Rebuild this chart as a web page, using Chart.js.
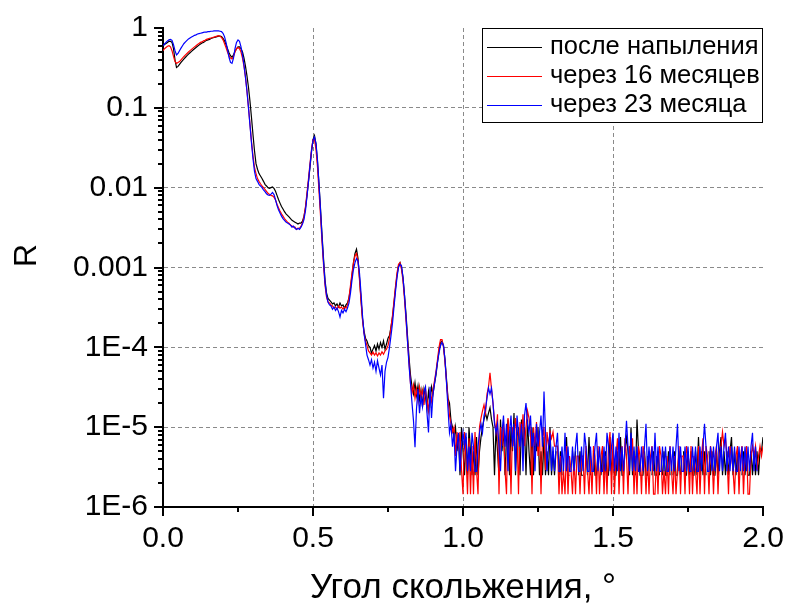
<!DOCTYPE html>
<html lang="ru">
<head>
<meta charset="utf-8">
<title>Рефлектометрия</title>
<script src="https://cdn.jsdelivr.net/npm/chart.js@4/dist/chart.umd.min.js"></script>
<style>
  html, body { margin: 0; padding: 0; background: #fff; }
  #wrap { width: 787px; height: 607px; }
</style>
</head>
<body>
<div id="wrap"><canvas id="refl" width="787" height="607"></canvas></div>
<script>
// grazing angle grid: one point every 0.005 deg from 0 to 2 deg
const ANGLE_STEP = 0.005;

const SERIES_NAMES = ['после напыления', 'через 16 месяцев', 'через 23 месяца'];
const SERIES_COLORS = ['#000000', '#ff0000', '#0000ff'];

const X_MAJOR = [0, 0.5, 1.0, 1.5, 2.0];
const X_MINOR = [0.25, 0.75, 1.25, 1.75];
const Y_DECADES = [1e-6, 1e-5, 1e-4, 1e-3, 0.01, 0.1, 1];
const Y_DECADE_LABELS = ['1E-6', '1E-5', '1E-4', '0.001', '0.01', '0.1', '1'];
const Y_MINOR_STEPS = [2, 3, 4, 5, 6, 7, 8, 9];

const FONT = "'Liberation Sans', Arial, sans-serif";

// R, right after deposition (null = no counts)
const rFresh = [
  0.60, 0.62, 0.64, 0.66, 0.68, 0.68, 0.66, 0.55, 0.40, 0.32,
  0.33, 0.35, 0.37, 0.39, 0.41, 0.43, 0.45, 0.47, 0.49, 0.51,
  0.53, 0.55, 0.57, 0.59, 0.61, 0.63, 0.65, 0.66, 0.68, 0.70,
  0.71, 0.72, 0.74, 0.75, 0.76, 0.77, 0.78, 0.79, 0.79, 0.78,
  0.74, 0.69, 0.62, 0.55, 0.49, 0.45, 0.43, 0.46, 0.51, 0.55,
  0.58, 0.58, 0.55, 0.50, 0.42, 0.33, 0.25, 0.18, 0.12, 0.075,
  0.046, 0.029, 0.020, 0.017, 0.015, 0.014, 0.013, 0.012, 0.011, 0.0105,
  0.0100, 0.0098, 0.0100, 0.0102, 0.0098, 0.0090, 0.0080, 0.0071, 0.0064, 0.0058,
  0.0054, 0.0050, 0.0047, 0.0045, 0.0043, 0.0041, 0.0039, 0.0038, 0.0037, 0.0036,
  0.0035, 0.0036, 0.0036, 0.0038, 0.0044, 0.0056, 0.0080, 0.012, 0.018, 0.028,
  0.040, 0.045, 0.035, 0.021, 0.011, 0.0055, 0.0026, 0.0013, 7.0e-4, 4.8e-4,
  4.1e-4, 3.9e-4, 3.7e-4, 3.5e-4, 3.6e-4, 3.3e-4, 3.5e-4, 3.2e-4, 3.6e-4, 3.3e-4,
  3.4e-4, 3.1e-4, 3.4e-4, 3.6e-4, 4.2e-4, 5.5e-4, 8.0e-4, 1.15e-3, 1.5e-3, 1.7e-3,
  1.3e-3, 7.5e-4, 4.0e-4, 2.3e-4, 1.6e-4, 1.3e-4, 1.2e-4, 1.05e-4, 1.0e-4, 8.5e-5,
  9.5e-5, 1.05e-4, 9.0e-5, 1.1e-4, 9.5e-5, 1.15e-4, 1.0e-4, 1.2e-4, 9.5e-5, 1.1e-4,
  1.3e-4, 1.4e-4, 1.8e-4, 2.4e-4, 3.6e-4, 5.5e-4, 8.0e-4, 1.05e-3, 1.15e-3, 1.0e-3,
  7.5e-4, 4.5e-4, 2.6e-4, 1.4e-4, 7.5e-5, 4.5e-5, 3.2e-5, 2.6e-5, 3.6e-5, 2.5e-5,
  3.3e-5, 2.2e-5, 2.9e-5, 1.8e-5, 3.0e-5, 2.4e-5, 1.7e-5, 2.8e-5, 2.0e-5, 3.2e-5,
  2.6e-5, 3.5e-5, 4.5e-5, 6.5e-5, 9.0e-5, 1.15e-4, 1.2e-4, 1.05e-4, 7.0e-5, 4.0e-5,
  2.3e-5, 2.0e-5, 1.2e-5, 1.0e-5, 7.5e-6, 1.0e-5, 5.0e-6, 7.5e-6, 2.5e-6, 1.0e-5,
  5.0e-6, 2.5e-6, 7.5e-6, 2.5e-6, 1.0e-5, 5.0e-6, 2.5e-6, 5.0e-6, 2.5e-6, 7.5e-6,
  2.5e-6, 5.0e-6, 7.5e-6, 1.0e-5, 1.25e-5, 1.5e-5, 1.25e-5, 1.5e-5, 1.75e-5, 1.25e-5,
  1.0e-5, 2.5e-6, 1.0e-5, 5.0e-6, 2.5e-6, 1.25e-5, 5.0e-6, 1.0e-5, 2.5e-6, 7.5e-6,
  1.25e-5, 2.5e-6, 1.0e-5, 5.0e-6, 1.5e-5, 2.5e-6, 7.5e-6, 1.0e-5, 2.5e-6, 1.25e-5,
  5.0e-6, 1.0e-5, 2.5e-6, 1.25e-5, 5.0e-6, 2.5e-6, 1.0e-5, 2.5e-6, 7.5e-6, 5.0e-6,
  1.0e-5, 2.5e-6, 5.0e-6, 2.5e-6, 7.5e-6, 2.5e-6, 5.0e-6, 2.5e-6, 1.0e-5, 2.5e-6,
  5.0e-6, 2.5e-6, 5.0e-6, null, 2.5e-6, 5.0e-6, 2.5e-6, null, 5.0e-6, 7.5e-6,
  2.5e-6, 2.5e-6, null, 5.0e-6, 2.5e-6, 5.0e-6, null, 2.5e-6, 5.0e-6, 2.5e-6,
  2.5e-6, null, 5.0e-6, 2.5e-6, 7.5e-6, 2.5e-6, null, 5.0e-6, 2.5e-6, 2.5e-6,
  5.0e-6, null, 2.5e-6, 5.0e-6, 2.5e-6, 5.0e-6, 2.5e-6, 2.5e-6, 7.5e-6, 2.5e-6,
  5.0e-6, 2.5e-6, 2.5e-6, 5.0e-6, 2.5e-6, 7.5e-6, 2.5e-6, 2.5e-6, 5.0e-6, 7.5e-6,
  5.0e-6, 2.5e-6, 1.0e-5, 2.5e-6, 5.0e-6, 2.5e-6, 1.25e-5, 5.0e-6, 2.5e-6, 2.5e-6,
  2.5e-6, 5.0e-6, 2.5e-6, 2.5e-6, 5.0e-6, null, 2.5e-6, 5.0e-6, 2.5e-6, 2.5e-6,
  5.0e-6, 2.5e-6, null, 2.5e-6, 5.0e-6, 2.5e-6, 2.5e-6, 5.0e-6, 2.5e-6, null,
  2.5e-6, 5.0e-6, 2.5e-6, 2.5e-6, 5.0e-6, 2.5e-6, null, 5.0e-6, 2.5e-6, 2.5e-6,
  5.0e-6, 2.5e-6, 5.0e-6, 2.5e-6, 2.5e-6, 5.0e-6, 2.5e-6, 7.5e-6, 2.5e-6, 5.0e-6,
  2.5e-6, 5.0e-6, 2.5e-6, null, 5.0e-6, 2.5e-6, 5.0e-6, 2.5e-6, 2.5e-6, 5.0e-6,
  2.5e-6, 5.0e-6, 7.5e-6, 2.5e-6, 5.0e-6, 2.5e-6, 5.0e-6, 2.5e-6, 5.0e-6, 7.5e-6,
  2.5e-6, 5.0e-6, 2.5e-6, 5.0e-6, 2.5e-6, null, 2.5e-6, 5.0e-6, 2.5e-6, 5.0e-6,
  2.5e-6, 2.5e-6, 5.0e-6, 2.5e-6, 5.0e-6, 2.5e-6, 5.0e-6, 2.5e-6, 5.0e-6, 5.0e-6,
  7.5e-6
];

// R, 16 months later
const r16 = [
  0.52, 0.55, 0.57, 0.59, 0.60, 0.58, 0.52, 0.44, 0.38, 0.36,
  0.37, 0.38, 0.40, 0.42, 0.44, 0.46, 0.48, 0.50, 0.52, 0.54,
  0.56, 0.58, 0.60, 0.62, 0.64, 0.66, 0.67, 0.69, 0.70, 0.72,
  0.73, 0.74, 0.75, 0.76, 0.77, 0.78, 0.79, 0.80, 0.79, 0.76,
  0.71, 0.64, 0.57, 0.50, 0.45, 0.42, 0.41, 0.44, 0.50, 0.55,
  0.57, 0.55, 0.50, 0.42, 0.33, 0.24, 0.16, 0.10, 0.062, 0.038,
  0.025, 0.018, 0.015, 0.013, 0.012, 0.0112, 0.0105, 0.0100, 0.0095, 0.0090,
  0.0085, 0.0082, 0.0080, 0.0079, 0.0076, 0.0070, 0.0062, 0.0056, 0.0051, 0.0047,
  0.0044, 0.0041, 0.0039, 0.0037, 0.0036, 0.0034, 0.0033, 0.0032, 0.0032, 0.0030,
  0.0031, 0.0031, 0.0033, 0.0036, 0.0043, 0.0058, 0.0086, 0.013, 0.020, 0.030,
  0.040, 0.040, 0.030, 0.018, 0.0090, 0.0045, 0.0021, 0.0011, 6.0e-4, 4.3e-4,
  3.7e-4, 3.6e-4, 3.4e-4, 3.3e-4, 3.1e-4, 3.2e-4, 3.0e-4, 3.3e-4, 3.1e-4, 3.2e-4,
  3.0e-4, 3.2e-4, 3.1e-4, 3.4e-4, 4.2e-4, 6.0e-4, 8.5e-4, 1.15e-3, 1.4e-3, 1.5e-3,
  1.2e-3, 7.0e-4, 3.8e-4, 2.2e-4, 1.5e-4, 1.2e-4, 1.05e-4, 9.0e-5, 8.5e-5, 8.0e-5,
  8.7e-5, 8.0e-5, 8.5e-5, 7.8e-5, 8.5e-5, 8.0e-5, 8.8e-5, 8.2e-5, 9.0e-5, 9.5e-5,
  1.05e-4, 1.3e-4, 1.8e-4, 2.5e-4, 3.8e-4, 5.8e-4, 8.5e-4, 1.1e-3, 1.15e-3, 9.5e-4,
  6.8e-4, 4.0e-4, 2.2e-4, 1.2e-4, 6.5e-5, 3.5e-5, 2.7e-5, 3.4e-5, 2.3e-5, 3.0e-5,
  2.1e-5, 3.2e-5, 2.4e-5, 2.9e-5, 1.9e-5, 3.0e-5, 2.2e-5, 1.6e-5, 2.7e-5, 2.1e-5,
  3.0e-5, 3.8e-5, 5.0e-5, 7.0e-5, 1.0e-4, 1.25e-4, 1.25e-4, 1.0e-4, 6.5e-5, 3.7e-5,
  2.2e-5, 1.4e-5, 1.1e-5, 8.7e-6, 1.0e-5, 4.35e-6, 8.7e-6, 5.8e-6, 8.7e-6, 2.9e-6,
  1.45e-6, 8.7e-6, 4.35e-6, 1.45e-6, 7.25e-6, 1.45e-6, 5.8e-6, 1.45e-6, 8.7e-6, 2.9e-6,
  1.45e-6, 1.0e-5, 1.3e-5, 1.6e-5, 1.9e-5, 1.5e-5, 2.6e-5, 3.2e-5, 4.8e-5, 3.0e-5,
  2.0e-5, 1.2e-5, 8.7e-6, 1.45e-5, 1.45e-6, 1.0e-5, 5.8e-6, 1.16e-5, 2.9e-6, 1.45e-6,
  1.3e-5, 7.25e-6, 1.45e-6, 1.0e-5, 5.8e-6, 1.3e-5, 8.7e-6, 1.45e-6, 1.16e-5, 7.25e-6,
  1.45e-5, 5.8e-6, 1.0e-5, 1.6e-5, 1.3e-5, 8.7e-6, 1.45e-6, 1.0e-5, 5.8e-6, 1.16e-5,
  4.35e-6, 8.7e-6, 1.45e-6, 7.25e-6, 1.0e-5, 2.9e-6, 8.7e-6, 5.8e-6, 8.7e-6, 7.25e-6,
  8.7e-6, 5.8e-6, 5.8e-6, 5.8e-6, 1.45e-6, 4.35e-6, 1.45e-6, 2.9e-6, 1.45e-6, 5.8e-6,
  1.45e-6, 4.35e-6, 2.9e-6, 1.45e-6, 4.35e-6, 1.45e-6, 4.35e-6, 4.35e-6, 1.45e-6, 4.35e-6,
  4.35e-6, 1.45e-6, 5.8e-6, 2.9e-6, 1.45e-6, 4.35e-6, 1.45e-6, 5.8e-6, 4.35e-6, 1.45e-6,
  5.8e-6, 1.45e-6, 4.35e-6, 5.8e-6, 1.45e-6, 4.35e-6, 1.45e-6, 5.8e-6, 8.7e-6, 1.45e-6,
  7.25e-6, 1.45e-6, 4.35e-6, 7.25e-6, 1.45e-6, 4.35e-6, 5.8e-6, 1.45e-6, 7.25e-6, 4.35e-6,
  1.45e-6, 5.8e-6, 4.35e-6, 7.25e-6, 1.45e-6, 4.35e-6, 1.45e-6, 5.8e-6, 4.35e-6, 1.45e-6,
  5.8e-6, 4.35e-6, 1.45e-6, 4.35e-6, 1.45e-6, 4.35e-6, 5.8e-6, 1.45e-6, 1.45e-6, 4.35e-6,
  1.45e-6, 5.8e-6, 4.35e-6, 1.45e-6, 2.9e-6, 1.45e-6, 4.35e-6, 1.45e-6, 5.8e-6, 2.9e-6,
  1.45e-6, 4.35e-6, 1.45e-6, 2.9e-6, 5.8e-6, 1.45e-6, 4.35e-6, 4.35e-6, 1.45e-6, 5.8e-6,
  4.35e-6, 1.45e-6, 5.8e-6, 1.45e-6, 4.35e-6, 2.9e-6, 1.45e-6, 5.8e-6, 1.45e-6, 4.35e-6,
  7.25e-6, 1.45e-6, 5.8e-6, 4.35e-6, 1.45e-6, 5.8e-6, 4.35e-6, 1.45e-6, 4.35e-6, 5.8e-6,
  1.45e-6, 4.35e-6, 5.8e-6, 8.7e-6, 5.8e-6, 7.25e-6, 4.35e-6, 1.45e-6, 5.8e-6, 4.35e-6,
  2.9e-6, 1.45e-6, 4.35e-6, 5.8e-6, 1.45e-6, 4.35e-6, 5.8e-6, 1.45e-6, 4.35e-6, 5.8e-6,
  1.45e-6, 1.45e-6, 4.35e-6, 5.8e-6, 4.35e-6, 5.8e-6, 2.9e-6, 4.35e-6, 5.8e-6, 4.35e-6,
  5.8e-6
];

// R, 23 months later
const r23 = [
  0.60, 0.63, 0.66, 0.69, 0.71, 0.72, 0.70, 0.62, 0.52, 0.46,
  0.48, 0.52, 0.56, 0.60, 0.64, 0.67, 0.70, 0.73, 0.75, 0.77,
  0.79, 0.81, 0.82, 0.84, 0.85, 0.86, 0.87, 0.88, 0.89, 0.89,
  0.90, 0.90, 0.91, 0.91, 0.92, 0.92, 0.92, 0.92, 0.91, 0.90,
  0.86, 0.78, 0.66, 0.54, 0.43, 0.37, 0.36, 0.42, 0.55, 0.66,
  0.71, 0.68, 0.58, 0.46, 0.34, 0.24, 0.16, 0.10, 0.060, 0.036,
  0.023, 0.016, 0.013, 0.012, 0.011, 0.0105, 0.0100, 0.0094, 0.0089, 0.0084,
  0.0081, 0.0080, 0.0083, 0.0087, 0.0082, 0.0071, 0.0060, 0.0053, 0.0048, 0.0044,
  0.0041, 0.0039, 0.0037, 0.0036, 0.0035, 0.0034, 0.0032, 0.0033, 0.0031, 0.0030,
  0.0031, 0.0030, 0.0032, 0.0035, 0.0040, 0.0052, 0.0078, 0.012, 0.019, 0.029,
  0.039, 0.043, 0.036, 0.022, 0.011, 0.0052, 0.0024, 0.0012, 6.5e-4, 4.5e-4,
  3.7e-4, 3.4e-4, 3.3e-4, 3.0e-4, 3.2e-4, 2.9e-4, 3.1e-4, 2.8e-4, 2.4e-4, 2.9e-4,
  2.7e-4, 3.0e-4, 2.8e-4, 3.1e-4, 3.6e-4, 4.8e-4, 7.0e-4, 9.5e-4, 1.15e-3, 1.3e-3,
  1.2e-3, 8.5e-4, 4.8e-4, 2.5e-4, 1.5e-4, 1.1e-4, 8.0e-5, 7.0e-5, 6.0e-5, 7.0e-5,
  5.5e-5, 6.5e-5, 5.0e-5, 6.8e-5, 5.5e-5, 4.5e-5, 6.0e-5, 2.3e-5, 5.0e-5, 6.5e-5,
  7.5e-5, 1.0e-4, 1.4e-4, 2.0e-4, 3.2e-4, 5.0e-4, 7.5e-4, 1.0e-3, 1.1e-3, 1.05e-3,
  7.5e-4, 4.5e-4, 2.4e-4, 1.2e-4, 6.0e-5, 3.5e-5, 2.0e-5, 1.2e-5, 5.6e-6, 1.7e-5,
  3.0e-5, 1.5e-5, 2.4e-5, 1.8e-5, 2.8e-5, 3.2e-5, 1.5e-5, 8.6e-6, 3.2e-5, 1.3e-5,
  2.6e-5, 3.5e-5, 4.8e-5, 6.5e-5, 8.5e-5, 1.05e-4, 1.15e-4, 1.05e-4, 7.0e-5, 3.6e-5,
  1.7e-5, 8.5e-6, 1.1e-5, 5.7e-6, 8.5e-6, 2.8e-6, 5.7e-6, 8.5e-6, 2.8e-6, 5.7e-6,
  8.5e-6, 5.7e-6, 8.5e-6, 2.8e-6, 5.7e-6, 2.8e-6, 8.5e-6, 5.7e-6, 2.8e-6, 2.8e-6,
  5.7e-6, 8.5e-6, 1.1e-5, 8.5e-6, 1.4e-5, 1.7e-5, 2.3e-5, 3.1e-5, 2.6e-5, 3.1e-5,
  2.0e-5, 1.1e-5, 8.5e-6, 1.1e-5, 5.7e-6, 2.8e-6, 8.5e-6, 1.4e-5, 5.7e-6, 1.1e-5,
  2.8e-6, 8.5e-6, 1.4e-5, 5.7e-6, 1.1e-5, 2.8e-6, 1.4e-5, 8.5e-6, 5.7e-6, 1.1e-5,
  2.8e-6, 1.4e-5, 2.0e-5, 1.1e-5, 8.5e-6, 1.4e-5, 5.7e-6, 8.5e-6, 2.8e-6, 1.1e-5,
  5.7e-6, 8.5e-6, 1.4e-5, 5.7e-6, 2.8e-5, 8.5e-6, 2.8e-6, 5.7e-6, 8.5e-6, 2.8e-6,
  5.7e-6, 2.8e-6, 5.7e-6, 8.5e-6, 2.8e-6, 2.8e-6, 5.7e-6, 2.8e-6, 8.5e-6, 2.8e-6,
  5.7e-6, 2.8e-6, 2.8e-6, 5.7e-6, 2.8e-6, 5.7e-6, 8.5e-6, 2.8e-6, 2.8e-6, 5.7e-6,
  2.8e-6, 8.5e-6, 5.7e-6, 2.8e-6, 2.8e-6, 5.7e-6, 2.8e-6, 2.8e-6, 5.7e-6, 8.5e-6,
  2.8e-6, 5.7e-6, 2.8e-6, 2.8e-6, 5.7e-6, 2.8e-6, 8.5e-6, 5.7e-6, 2.8e-6, 5.7e-6,
  8.5e-6, 2.8e-6, 5.7e-6, 2.8e-6, 8.5e-6, 2.8e-6, 5.7e-6, 2.8e-6, 5.7e-6, 1.2e-5,
  5.7e-6, 2.8e-6, 8.5e-6, 2.8e-6, 5.7e-6, 2.8e-6, 5.7e-6, 2.8e-6, 2.8e-6, 5.7e-6,
  2.8e-6, 5.7e-6, 1.1e-5, 2.8e-6, 5.7e-6, 2.8e-6, 5.7e-6, 2.8e-6, 8.5e-6, 2.8e-6,
  5.7e-6, 2.8e-6, 2.8e-6, 5.7e-6, 2.8e-6, 5.7e-6, 2.8e-6, 2.8e-6, 5.7e-6, 2.8e-6,
  5.7e-6, 2.8e-6, 5.7e-6, 1.1e-5, 2.8e-6, 5.7e-6, 2.8e-6, 2.8e-6, 5.7e-6, 2.8e-6,
  5.7e-6, 2.8e-6, 2.8e-6, 5.7e-6, 2.8e-6, 5.7e-6, 2.8e-6, 2.8e-6, 5.7e-6, 2.8e-6,
  5.7e-6, 1.1e-5, 5.7e-6, 2.8e-6, 2.8e-6, 5.7e-6, 2.8e-6, 5.7e-6, 2.8e-6, 5.7e-6,
  8.5e-6, 2.8e-6, 5.7e-6, 2.8e-6, 5.7e-6, 8.5e-6, 2.8e-6, 5.7e-6, 2.8e-6, 5.7e-6,
  2.8e-6, 5.7e-6, 2.8e-6, 2.8e-6, 5.7e-6, 2.8e-6, 5.7e-6, 2.8e-6, 5.7e-6, 2.8e-6,
  5.7e-6, 2.8e-6, 5.7e-6, 8.5e-6, 2.8e-6, 5.7e-6, 2.8e-6, null, null, null,
  null
];

const toPoints = (arr) => arr.map((r, i) => ({ x: i * ANGLE_STEP, y: r }));

const isDecade = (v) => Y_DECADES.some((d) => Math.abs(v / d - 1) < 1e-6);
const isXMajor = (v) => X_MAJOR.some((m) => Math.abs(v - m) < 1e-9);

// outward tick marks, long on labelled values, short in between
const axisTicks = {
  id: 'axisTicks',
  afterDraw(chart) {
    const ctx = chart.ctx;
    const xs = chart.scales.x;
    const ys = chart.scales.y;
    ctx.save();
    ctx.strokeStyle = '#000';
    ctx.lineWidth = 2;
    ctx.beginPath();
    xs.ticks.forEach((t) => {
      const px = Math.round(xs.getPixelForValue(t.value));
      const len = isXMajor(t.value) ? 9 : 5;
      ctx.moveTo(px, xs.top);
      ctx.lineTo(px, xs.top + len);
    });
    ys.ticks.forEach((t) => {
      const py = Math.round(ys.getPixelForValue(t.value));
      const len = isDecade(t.value) ? 9 : 5;
      ctx.moveTo(ys.right, py);
      ctx.lineTo(ys.right - len, py);
    });
    ctx.stroke();
    ctx.restore();
  }
};

// rotated "R" a little above the middle of the left axis
const yTitle = {
  id: 'yTitle',
  afterDraw(chart) {
    const ctx = chart.ctx;
    const area = chart.chartArea;
    ctx.save();
    ctx.translate(27, (area.top + area.bottom) / 2 - 12);
    ctx.rotate(-Math.PI / 2);
    ctx.font = '32px ' + FONT;
    ctx.fillStyle = '#000';
    ctx.textAlign = 'center';
    ctx.textBaseline = 'middle';
    ctx.fillText('R', 0, 0);
    ctx.restore();
  }
};

// framed legend in the upper right corner of the plot
const boxLegend = {
  id: 'boxLegend',
  afterDraw(chart) {
    const ctx = chart.ctx;
    const area = chart.chartArea;
    const w = 281, h = 95, rowH = 29;
    const left = area.right - w;
    const top = area.top;
    ctx.save();
    ctx.fillStyle = '#fff';
    ctx.fillRect(left, top, w, h);
    ctx.strokeStyle = '#000';
    ctx.lineWidth = 1;
    ctx.strokeRect(left + 0.5, top + 0.5, w - 1, h - 1);
    ctx.font = '25.5px ' + FONT;
    ctx.textBaseline = 'middle';
    ctx.textAlign = 'left';
    chart.data.datasets.forEach((ds, i) => {
      const y = top + 19 + i * rowH;
      ctx.strokeStyle = ds.borderColor;
      ctx.lineWidth = 1;
      ctx.beginPath();
      ctx.moveTo(left + 5, y + 0.5);
      ctx.lineTo(left + 60, y + 0.5);
      ctx.stroke();
      ctx.fillStyle = '#000';
      ctx.fillText(ds.label, left + 68, y);
    });
    ctx.restore();
  }
};

const datasets = [rFresh, r16, r23].map((arr, i) => ({
  label: SERIES_NAMES[i],
  data: toPoints(arr),
  borderColor: SERIES_COLORS[i],
  borderWidth: 1.2,
  pointRadius: 0,
  tension: 0,
  spanGaps: false,
  order: 3 - i
}));

new Chart(document.getElementById('refl').getContext('2d'), {
  type: 'line',
  data: { datasets },
  options: {
    responsive: false,
    animation: false,
    events: [],
    layout: { padding: { top: 28, right: 24, bottom: 0, left: 0 } },
    plugins: {
      legend: { display: false },
      tooltip: { enabled: false }
    },
    scales: {
      x: {
        type: 'linear',
        min: 0,
        max: 2,
        afterBuildTicks: (scale) => {
          scale.ticks = X_MAJOR.concat(X_MINOR).sort((a, b) => a - b).map((v) => ({ value: v }));
        },
        afterFit: (scale) => {
          scale.height = 100;
          scale.paddingLeft = 0;
          scale.paddingRight = 0;
        },
        ticks: {
          autoSkip: false,
          maxRotation: 0,
          padding: 14,
          color: '#000',
          font: { family: FONT, size: 30 },
          callback: (v) => (isXMajor(v) ? v.toFixed(1) : '')
        },
        grid: {
          drawTicks: false,
          lineWidth: 1,
          color: (c) => (c.tick && isXMajor(c.tick.value) && c.tick.value > 0 && c.tick.value < 2 ? '#8a8a8a' : 'rgba(0,0,0,0)')
        },
        border: { display: true, color: '#000', width: 2, dash: [4, 3] },
        title: {
          display: true,
          text: 'Угол скольжения, °',
          color: '#000',
          font: { family: FONT, size: 35 },
          padding: { top: 0, bottom: -2 }
        }
      },
      y: {
        type: 'logarithmic',
        min: 1e-6,
        max: 1,
        afterBuildTicks: (scale) => {
          const ticks = [];
          Y_DECADES.forEach((d, i) => {
            ticks.push({ value: d });
            if (i < Y_DECADES.length - 1) {
              Y_MINOR_STEPS.forEach((m) => ticks.push({ value: d * m }));
            }
          });
          scale.ticks = ticks;
        },
        afterFit: (scale) => {
          scale.width = 163;
          scale.paddingTop = 0;
          scale.paddingBottom = 0;
        },
        ticks: {
          autoSkip: false,
          padding: 15,
          color: '#000',
          font: { family: FONT, size: 30 },
          callback: (v) => {
            const k = Y_DECADES.findIndex((d) => Math.abs(v / d - 1) < 1e-6);
            return k >= 0 ? Y_DECADE_LABELS[k] : '';
          }
        },
        grid: {
          drawTicks: false,
          lineWidth: 1,
          color: (c) => (c.tick && isDecade(c.tick.value) && c.tick.value > 1.5e-6 && c.tick.value < 0.5 ? '#8a8a8a' : 'rgba(0,0,0,0)')
        },
        border: { display: true, color: '#000', width: 2, dash: [4, 3] }
      }
    }
  },
  plugins: [axisTicks, yTitle, boxLegend]
});
</script>
</body>
</html>
